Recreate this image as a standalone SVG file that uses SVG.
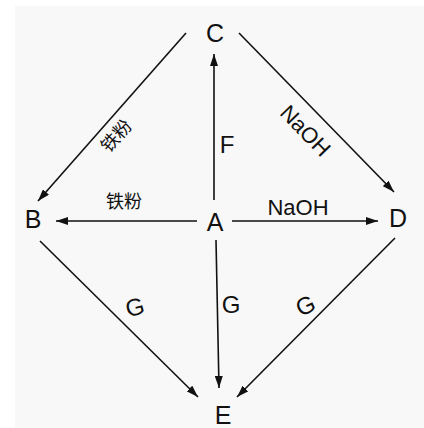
<svg xmlns="http://www.w3.org/2000/svg" width="424" height="428" viewBox="0 0 424 428">
<defs>
<marker id="arr" markerUnits="userSpaceOnUse" markerWidth="12" markerHeight="8" refX="12" refY="4" orient="auto">
<path d="M0,0 L12,4 L0,8 z" fill="#111"/>
</marker>
<style>
.edge{stroke:#111;stroke-width:1.6;fill:none;marker-end:url(#arr)}
.node{font-family:"Liberation Sans",Arial,sans-serif;font-size:25px;fill:#111;text-anchor:middle}
.lbl{font-family:"Liberation Sans",Arial,sans-serif;font-size:22px;fill:#111;text-anchor:middle}
.cn{font-family:"Noto Sans CJK SC","Liberation Sans",sans-serif;font-size:18px;fill:#111;text-anchor:middle}
</style>
</defs>
<rect x="0" y="0" width="424" height="428" fill="#ffffff"/>
<rect x="15" y="6" width="409" height="422" fill="#f8f8f8"/>
<g id="connectors">
<line class="edge" x1="186" y1="33" x2="38" y2="201"/>
<line class="edge" x1="239" y1="33" x2="394" y2="192"/>
<line class="edge" x1="214" y1="200" x2="214" y2="54"/>
<line class="edge" x1="197" y1="221" x2="56" y2="221"/>
<line class="edge" x1="232" y1="221" x2="378" y2="221"/>
<line class="edge" x1="216" y1="240" x2="219" y2="388"/>
<line class="edge" x1="40" y1="241" x2="198" y2="397"/>
<line class="edge" x1="395" y1="238" x2="237" y2="397"/>
</g>
<g id="labels">
<text class="cn" transform="translate(121,140) rotate(-48)">铁粉</text>
<text class="lbl" transform="translate(300,136) rotate(46)">NaOH</text>
<text class="lbl" x="227" y="153" style="font-size:24px">F</text>
<text class="cn" x="124" y="208">铁粉</text>
<text class="lbl" x="298" y="215">NaOH</text>
<text class="lbl" style="font-size:24px" transform="translate(137,315) rotate(-15)">G</text>
<text class="lbl" x="231" y="313" style="font-size:24px">G</text>
<text class="lbl" style="font-size:24px" transform="translate(309,313) rotate(-25)">G</text>
</g>
<g id="node-C"><text class="node" x="215" y="42">C</text></g>
<g id="node-B"><text class="node" x="33" y="228">B</text></g>
<g id="node-A"><text class="node" x="215" y="231">A</text></g>
<g id="node-D"><text class="node" x="398" y="227">D</text></g>
<g id="node-E"><text class="node" x="223" y="424">E</text></g>
</svg>
